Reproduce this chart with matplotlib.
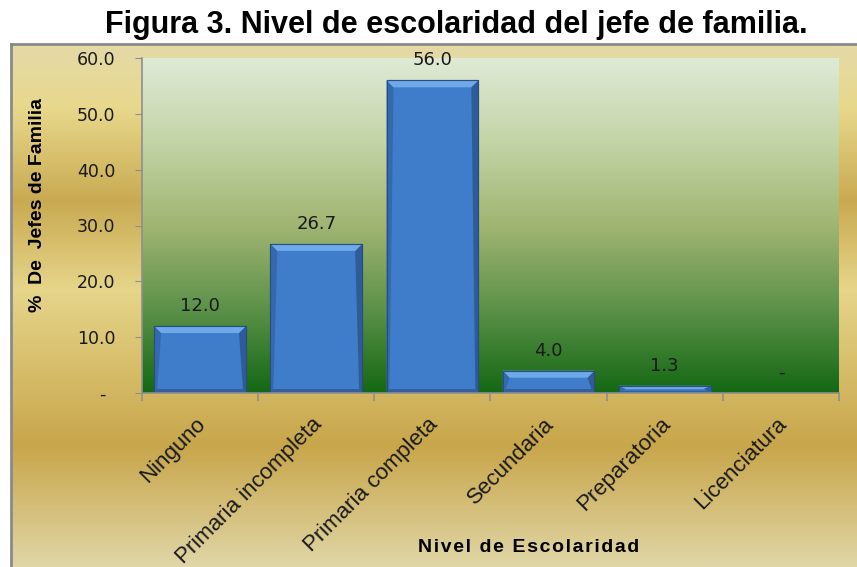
import numpy as np
import matplotlib
matplotlib.use("Agg")
import matplotlib.pyplot as plt
from matplotlib.colors import LinearSegmentedColormap
from matplotlib.patches import Polygon
from matplotlib.transforms import ScaledTranslation

categories = ["Ninguno", "Primaria incompleta", "Primaria completa",
              "Secundaria", "Preparatoria", "Licenciatura"]
values = [12.0, 26.7, 56.0, 4.0, 1.3, 0.0]
yticks = [0, 10, 20, 30, 40, 50, 60]
title = "Figura 3. Nivel de escolaridad del jefe de familia."
ylabel = "%  De  Jefes de Familia"
xlabel = "Nivel de Escolaridad"

W, H = 857, 567
fig = plt.figure(figsize=(W / 100, H / 100), dpi=100)
fig.patch.set_facecolor("white")

# golden chart-area background
bx0, by1 = 11 / W, (H - 44) / H
bg = fig.add_axes([bx0, 0, 1 - bx0, by1], zorder=-5)
gold = LinearSegmentedColormap.from_list("gold", [
    (0.0, "#e4daa8"), (0.12, "#e8d88c"), (0.30, "#c9aa52"),
    (0.47, "#e6d58a"), (0.77, "#c8a64b"), (1.0, "#e0d6a6")])
bg.imshow(np.linspace(0, 1, 256).reshape(-1, 1), cmap=gold, aspect="auto",
          extent=[0, 1, 0, 1], origin="upper")
bg.set_xlim(0, 1); bg.set_ylim(0, 1)
bg.axis("off")
fig.add_artist(plt.Line2D([bx0, bx0], [0, by1], color="#8a8a8a", lw=2))
fig.add_artist(plt.Line2D([bx0, 1], [by1, by1], color="#8a8a8a", lw=2))

# plot area
L, R, T, B = 142, 839, 58, 393
ax = fig.add_axes([L / W, (H - B) / H, (R - L) / W, (B - T) / H])
n = len(categories)
ymax = 60
green = LinearSegmentedColormap.from_list("green", [
    (0.0, "#dfead6"), (0.25, "#c3d4a6"), (0.5, "#a0b572"),
    (0.75, "#5c9149"), (1.0, "#146814")])
ax.imshow(np.linspace(0, 1, 256).reshape(-1, 1), cmap=green, aspect="auto",
          extent=[-0.5, n - 0.5, 0, ymax], origin="upper", zorder=0)
ax.set_xlim(-0.5, n - 0.5)
ax.set_ylim(0, ymax)

bw = 0.79
x = np.arange(n)
bars = ax.bar(x, values, width=bw, color="#3f7dca", edgecolor="#2a4d80",
              linewidth=0.8, zorder=2)

# bevel decoration derived from each bar
ppy = (B - T) / ymax
ppx = (R - L) / n
for b in bars:
    h = b.get_height()
    if h <= 0:
        continue
    x0, x1 = b.get_x(), b.get_x() + b.get_width()
    hpx = h * ppy
    bt = min(7, hpx * 0.45) / ppy
    bbm = min(4, hpx * 0.3) / ppy
    sx = 7 / ppx
    ss = 3 / ppx
    ax.add_patch(Polygon([(x0, 0), (x0, h), (x0 + sx, h - bt), (x0 + ss, bbm)],
                         closed=True, fc="#3569ae", ec="none", zorder=3))
    ax.add_patch(Polygon([(x1, 0), (x1, h), (x1 - sx, h - bt), (x1 - ss, bbm)],
                         closed=True, fc="#2f5c99", ec="none", zorder=3))
    ax.add_patch(Polygon([(x0, 0), (x1, 0), (x1 - ss, bbm), (x0 + ss, bbm)],
                         closed=True, fc="#335f9c", ec="none", zorder=3))
    ax.add_patch(Polygon([(x0, h), (x1, h), (x1 - sx, h - bt), (x0 + sx, h - bt)],
                         closed=True, fc="#6eaaea", ec="none", zorder=3))
    ax.add_patch(plt.Rectangle((x0, 0), x1 - x0, h, fill=False,
                               ec="#2a4d80", lw=0.8, zorder=4))

for xi, v in zip(x, values):
    lab = "-" if v == 0 else f"{v:.1f}"
    ax.annotate(lab, (xi, v), xytext=(0, 8), textcoords="offset points",
                ha="center", va="bottom", fontsize=13,
                family="DejaVu Sans", color="#1a1a1a", zorder=5)

# axes styling
for s in ("top", "right"):
    ax.spines[s].set_visible(False)
for s in ("left", "bottom"):
    ax.spines[s].set_color("#8f8f8f")
    ax.spines[s].set_linewidth(1.2)
    ax.spines[s].set_zorder(6)

ax.set_yticks(yticks)
ax.set_yticklabels(["-\u2002" if t == 0 else f"{t:.1f}" for t in yticks],
                   fontsize=12.5, family="DejaVu Sans", color="#1a1a1a")
ax.tick_params(axis="y", length=5, color="#8f8f8f", pad=14)

ax.set_xticks(x)
ax.set_xticklabels(categories, rotation=45, ha="right", va="top",
                   rotation_mode="anchor",
                   fontsize=16, family="Liberation Sans", color="#1a1a1a")
ax.tick_params(axis="x", which="major", length=0, pad=15)
for lab in ax.get_xticklabels():
    lab.set_transform(lab.get_transform() +
                      ScaledTranslation(-5 / 100, 0, fig.dpi_scale_trans))
ax.set_xticks(np.arange(-0.5, n, 1.0), minor=True)
ax.tick_params(axis="x", which="minor", length=6, color="#8f8f8f", width=1.2)

fig.text(456 / W, 1 - 25 / H, title, ha="center", va="center",
         fontsize=22, fontweight="bold", family="Liberation Sans", color="black")
fig.text(38 / W, 1 - 205 / H, ylabel, rotation=90, ha="center", va="center",
         fontsize=14, fontweight="bold", family="Liberation Sans", color="black")
fig.text(529 / W, 1 - 548 / H, "\u200a".join(xlabel), ha="center", va="center",
         fontsize=14, fontweight="bold",
         family=["Liberation Sans", "DejaVu Sans"], color="black")

fig.savefig("out.png", dpi=100)
